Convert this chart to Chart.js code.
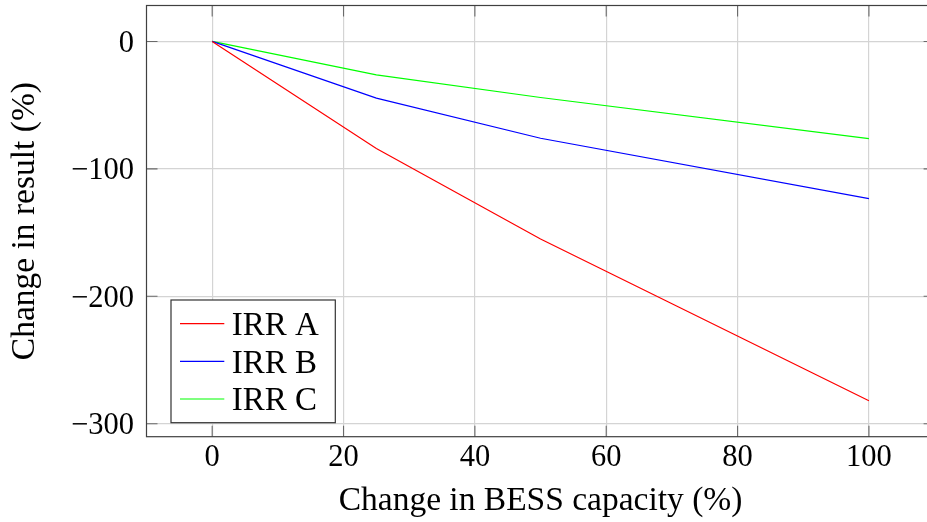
<!DOCTYPE html>
<html><head><meta charset="utf-8">
<script src="https://cdn.jsdelivr.net/npm/chart.js@4/dist/chart.umd.min.js"></script>
<style>
html,body{margin:0;padding:0;overflow:hidden;background:#fff;width:927px;height:522px}
#wrap{position:absolute;left:0;top:0;width:940px;height:522px}
canvas{display:block}
</style></head>
<body><div id="wrap"><canvas id="c" width="940" height="522"></canvas></div>
<script>
const capacityChange = [0, 25, 50, 100];
const irrA = [0, -84, -155, -282];
const irrB = [0, -44.5, -76, -123.4];
const irrC = [0, -26.2, -44, -76.3];
const seriesLabels = ['IRR A', 'IRR B', 'IRR C'];
const seriesColors = ['#ff0000', '#0000ff', '#00ff00'];
const xTicks = [0, 20, 40, 60, 80, 100];
const yTicks = [-300, -200, -100, 0];
const xTitle = 'Change in BESS capacity (%)';
const yTitle = 'Change in result (%)';

const FONT = '"Liberation Serif", "Times New Roman", serif';

function toPoints(xs, ys){ return xs.map((v,i)=>({x:v, y:ys[i]})); }

const frame = {
  id:'frame',
  afterDatasetsDraw(chart){
    const {ctx, chartArea:a, scales:{x, y}} = chart;
    ctx.save();
    ctx.strokeStyle = '#6a6a6a'; ctx.lineWidth = 1.1;
    ctx.beginPath();
    xTicks.forEach(v=>{
      const p = x.getPixelForValue(v);
      ctx.moveTo(p, a.bottom); ctx.lineTo(p, a.bottom-11);
      ctx.moveTo(p, a.top); ctx.lineTo(p, a.top+11);
    });
    yTicks.forEach(v=>{
      const p = y.getPixelForValue(v);
      ctx.moveTo(a.left, p); ctx.lineTo(a.left+11, p);
      ctx.moveTo(a.right, p); ctx.lineTo(a.right-11, p);
    });
    ctx.stroke();
    ctx.strokeStyle = '#404040'; ctx.lineWidth = 1.2;
    ctx.strokeRect(a.left, a.top, a.right-a.left, a.bottom-a.top);
    ctx.restore();
  }
};

const legendBox = {
  id:'legendBox',
  afterDraw(chart){
    const {ctx, chartArea:a} = chart;
    const w = 164.3, h = 122.7;
    const x0 = a.left + 24.5, y0 = a.bottom - 14 - h;
    ctx.save();
    ctx.fillStyle = '#fff'; ctx.fillRect(x0, y0, w, h);
    ctx.strokeStyle = '#333'; ctx.lineWidth = 1.2; ctx.strokeRect(x0, y0, w, h);
    ctx.font = '33px ' + FONT; ctx.textBaseline = 'alphabetic'; ctx.textAlign = 'left';
    chart.data.datasets.forEach((ds, i)=>{
      const ly = y0 + 23.7 + i*37.65;
      ctx.strokeStyle = ds.borderColor; ctx.lineWidth = 1.2;
      ctx.beginPath(); ctx.moveTo(x0+9, ly); ctx.lineTo(x0+53.3, ly); ctx.stroke();
      ctx.fillStyle = '#000';
      ctx.fillText(ds.label, x0+60.7, ly+11.2);
    });
    ctx.restore();
  }
};

const series = [irrA, irrB, irrC];
new Chart(document.getElementById('c'), {
  type:'line',
  data:{
    datasets: series.map((s,i)=>({
      label: seriesLabels[i],
      data: toPoints(capacityChange, s),
      borderColor: seriesColors[i],
      backgroundColor: seriesColors[i],
      borderWidth: 1.2,
      pointRadius: 0,
      tension: 0,
      fill: false
    }))
  },
  options:{
    responsive:false,
    devicePixelRatio:1,
    animation:false,
    layout:{padding:{left:0, right:5.4, top:5.5, bottom:0}},
    plugins:{legend:{display:false}, tooltip:{enabled:false}},
    scales:{
      x:{
        type:'linear', position:'bottom', min:-10, max:110,
        afterBuildTicks(s){ s.ticks = xTicks.map(v=>({value:v})); },
        afterFit(s){ s.height = 85.3; s.paddingLeft = 0; s.paddingRight = 0; },
        grid:{color:'#d4d4d4', lineWidth:1.2, drawTicks:false},
        border:{display:false},
        ticks:{color:'#000', font:{family:FONT, size:30.5}, padding:3, maxRotation:0, autoSkip:false},
        title:{display:true, text:xTitle, color:'#000', font:{family:FONT, size:33.5}, padding:{top:0, bottom:0.9}}
      },
      y:{
        type:'linear', position:'left', min:-310.2, max:28.2,
        afterBuildTicks(s){ s.ticks = yTicks.map(v=>({value:v})); },
        afterFit(s){ s.width = 146.5; s.paddingTop = 0; s.paddingBottom = 0; },
        grid:{color:'#d4d4d4', lineWidth:1.2, drawTicks:false},
        border:{display:false},
        ticks:{color:'#000', font:{family:FONT, size:30.5}, padding:12.5, labelOffset:2.5,
          callback:(v)=> v < 0 ? '\u2212' + Math.abs(v) : String(v)},
        title:{display:true, text:yTitle, color:'#000', font:{family:FONT, size:33.5}, padding:{top:4.9, bottom:0}}
      }
    }
  },
  plugins:[frame, legendBox]
});
</script>
</body></html>
